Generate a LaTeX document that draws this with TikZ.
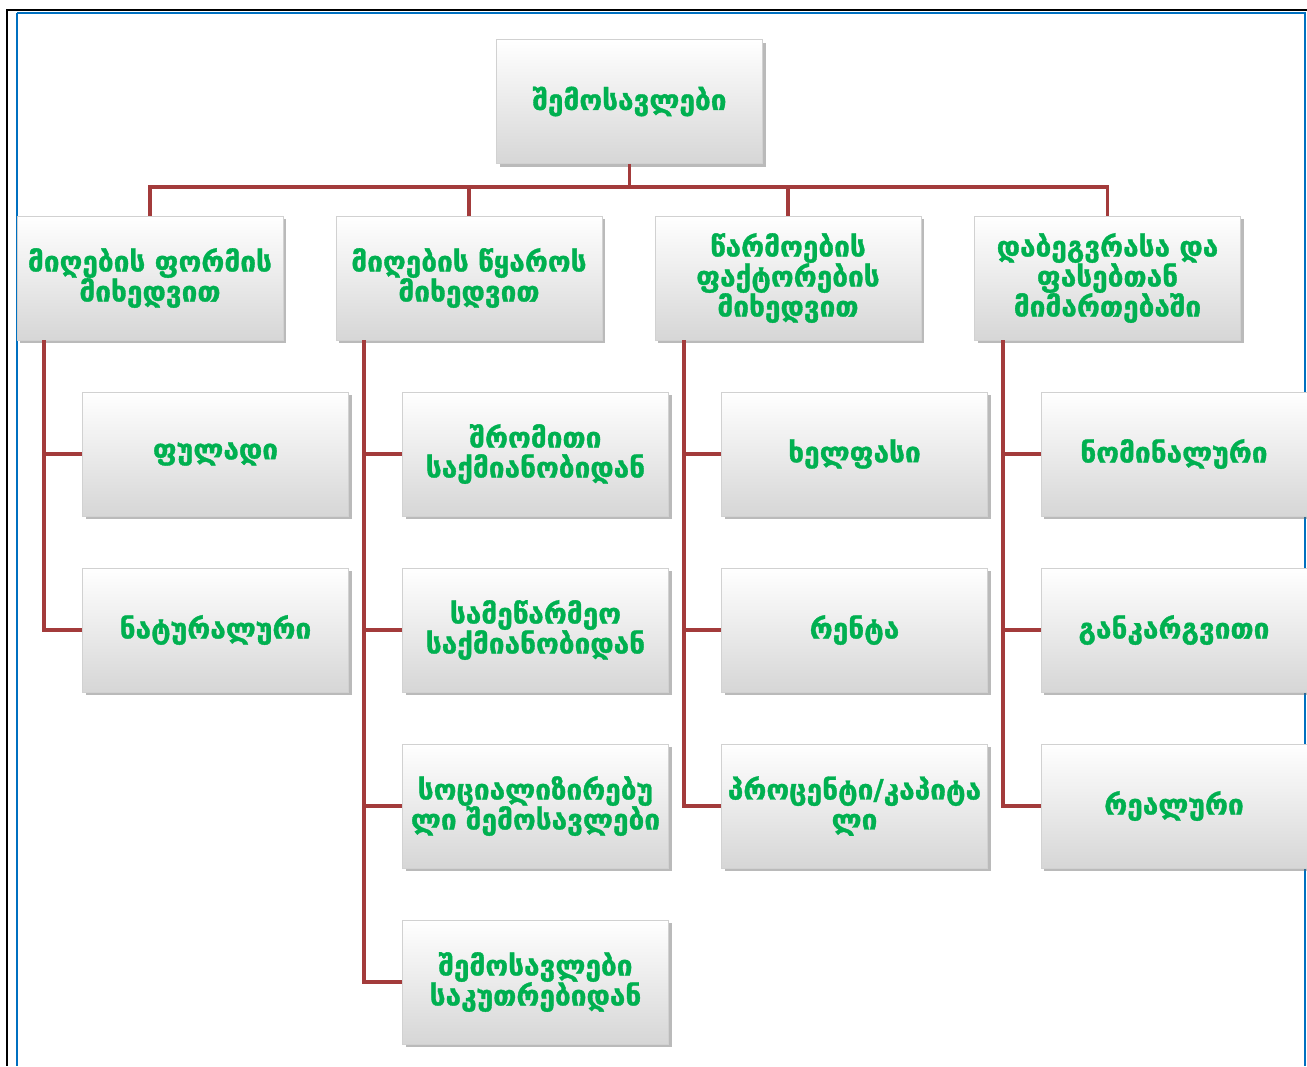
\documentclass[tikz,border=0pt]{standalone}
\usepackage{fontspec}
\newfontfamily\geo[BoldFeatures={FakeBold=1.2}]{DejaVu Sans}
\usetikzlibrary{shadows}
\definecolor{connc}{HTML}{A33B3B}
\definecolor{txtc}{HTML}{00B050}
\definecolor{framec}{HTML}{0070C0}
\begin{document}
\begin{tikzpicture}[x=1pt,y=-1pt,
  box/.style={minimum width=265pt, minimum height=124pt, inner sep=2pt,
    top color=white, bottom color=black!16, draw=black!18, line width=0.6pt,
    drop shadow={shadow xshift=3pt, shadow yshift=-3pt, opacity=0.45, fill=black!60},
    align=center, text width=262pt,
    font=\geo\bfseries\fontsize{28}{30}\selectfont, text=txtc},
  conn/.style={draw=connc, line width=3.5pt}]
\useasboundingbox[fill=white] (0,0) rectangle (1307,1066);
% frame
\draw[line width=2pt] (7,10) -- (1307,10);
\draw[line width=2pt] (7,9) -- (7,1066);
\draw[framec, line width=2pt] (17,13) -- (1305,13) -- (1305,1066);
\draw[framec, line width=2pt] (17,13) -- (17,1066);
% connector anchors
\coordinate (bus) at (629,187);
\coordinate (s1) at (44,340);
\coordinate (s2) at (364,340);
\coordinate (s3) at (684,340);
\coordinate (s4) at (1003,340);
% boxes
\node[box] (top) at (629.5,101.5) {შემოსავლები};
\node[box] (a) at (150,278) {მიღების ფორმის\\მიხედვით};
\node[box] (b) at (469,278) {მიღების წყაროს\\მიხედვით};
\node[box] (c) at (788,278) {წარმოების\\ფაქტორების\\მიხედვით};
\node[box] (d) at (1107.5,278) {დაბეგვრასა და\\ფასებთან\\მიმართებაში};
\node[box] (a1) at (215.5,454) {ფულადი};
\node[box] (a2) at (215.5,630) {ნატურალური};
\node[box] (b1) at (535.5,454) {შრომითი\\საქმიანობიდან};
\node[box] (b2) at (535.5,630) {სამეწარმეო\\საქმიანობიდან};
\node[box] (b3) at (535.5,806) {სოციალიზირებუ\\ლი შემოსავლები};
\node[box] (b4) at (535.5,982) {შემოსავლები\\საკუთრებიდან};
\node[box] (c1) at (854.5,454) {ხელფასი};
\node[box] (c2) at (854.5,630) {რენტა};
\node[box] (c3) at (854.5,806) {პროცენტი/კაპიტა\\ლი};
\node[box] (d1) at (1174,454) {ნომინალური};
\node[box] (d2) at (1174,630) {განკარგვითი};
\node[box] (d3) at (1174,806) {რეალური};
% connectors
\draw[conn] (top.south) -- (top.south |- bus);
\draw[conn] (a.north) |- (d.north |- bus) -- (d.north);
\draw[conn] (b.north) -- (b.north |- bus);
\draw[conn] (c.north) -- (c.north |- bus);
\draw[conn] (s1) |- (a1.west);
\draw[conn] (s1) |- (a2.west);
\draw[conn] (s2) |- (b1.west);
\draw[conn] (s2) |- (b2.west);
\draw[conn] (s2) |- (b3.west);
\draw[conn] (s2) |- (b4.west);
\draw[conn] (s3) |- (c1.west);
\draw[conn] (s3) |- (c2.west);
\draw[conn] (s3) |- (c3.west);
\draw[conn] (s4) |- (d1.west);
\draw[conn] (s4) |- (d2.west);
\draw[conn] (s4) |- (d3.west);
\end{tikzpicture}
\end{document}
